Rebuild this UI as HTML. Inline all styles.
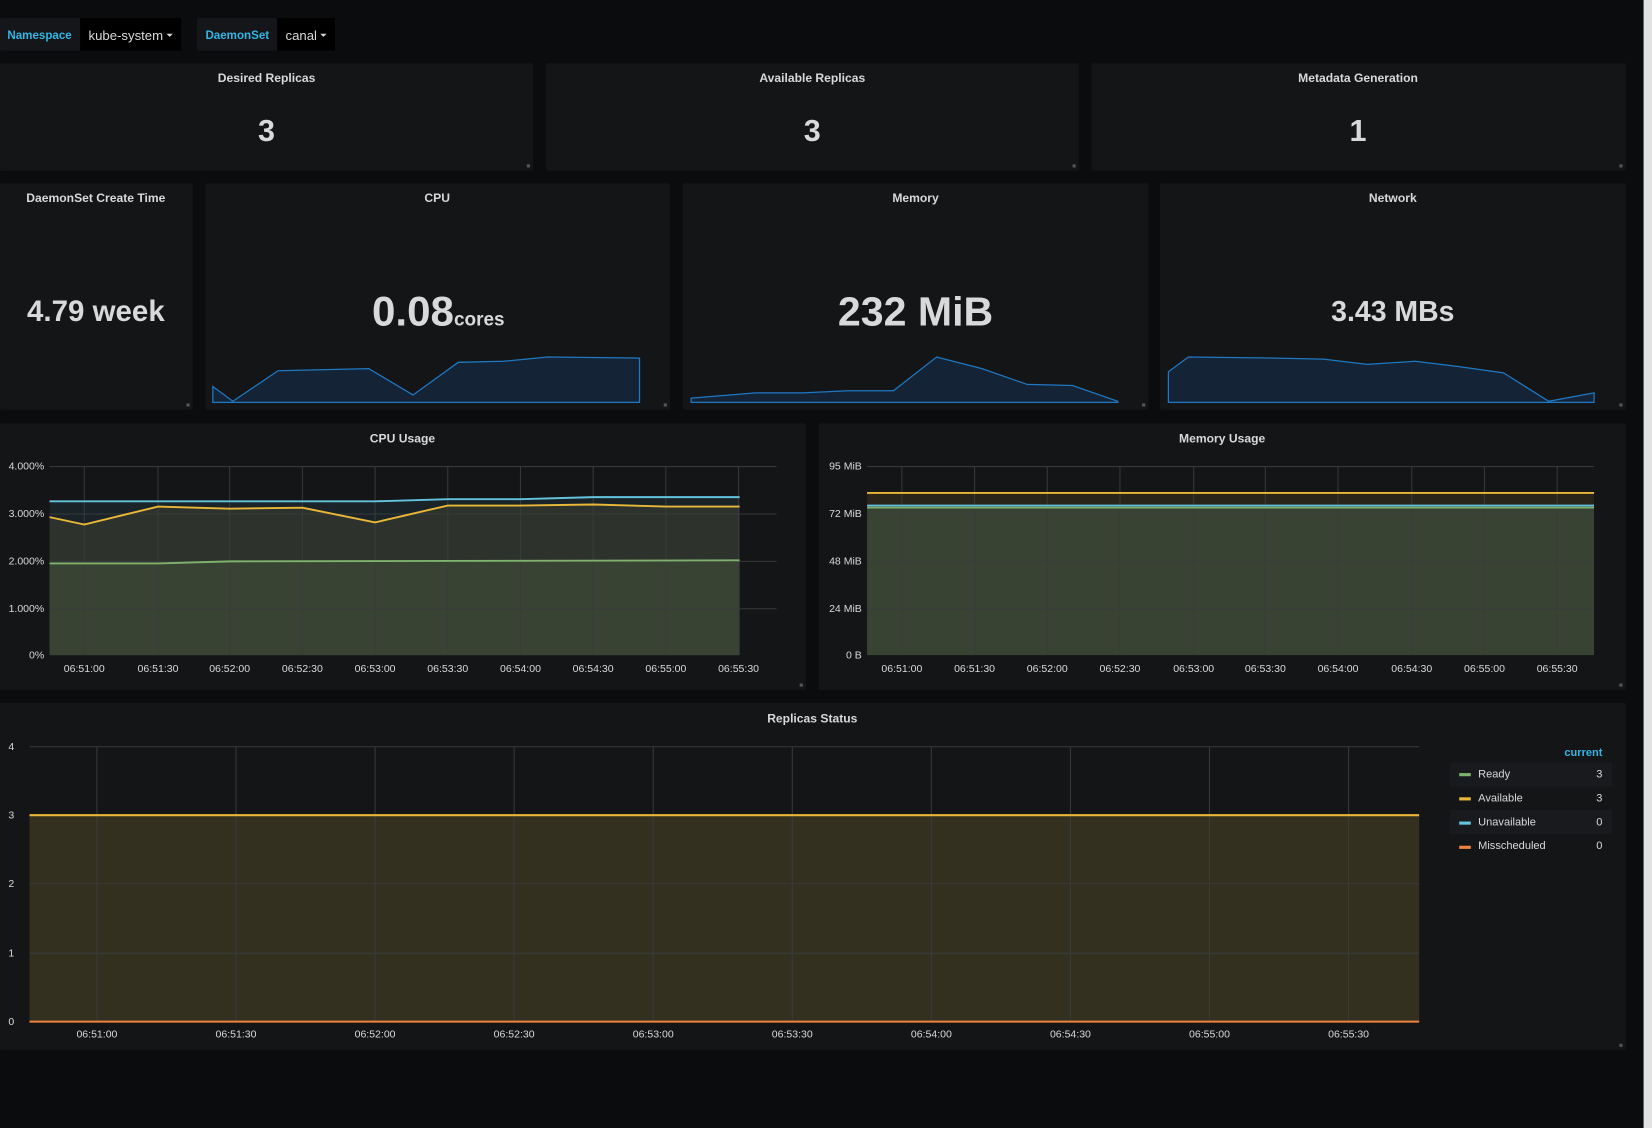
<!DOCTYPE html>
<html><head><meta charset="utf-8"><style>
html,body{margin:0;padding:0;background:#0b0c0e;width:1652px;height:1128px;overflow:hidden}
svg{display:block}
text{font-family:"Liberation Sans",sans-serif}
</style></head><body>
<svg width="1652" height="1128" viewBox="0 0 1568 1071" preserveAspectRatio="none" xmlns="http://www.w3.org/2000/svg">
<rect width="1568" height="1071" fill="#0b0c0e"/>
<rect x="1560" y="0" width="8" height="1071" fill="#e2e2e2"/>
<!-- top bar -->
<rect x="0" y="17" width="172" height="31" rx="2" fill="#141619"/>
<rect x="76" y="17" width="96" height="31" fill="#000"/>
<text x="7" y="37" font-size="11" font-weight="bold" fill="#33b5e5">Namespace</text>
<text x="84" y="38" font-size="12.5" fill="#d8d9da">kube-system</text>
<path d="M158 32l6 0-3 3z" fill="#d8d9da"/>
<rect x="187" y="17" width="131" height="31" rx="2" fill="#141619"/>
<rect x="263" y="17" width="55" height="31" fill="#000"/>
<text x="195" y="37" font-size="11" font-weight="bold" fill="#33b5e5">DaemonSet</text>
<text x="271" y="38" font-size="12.5" fill="#d8d9da">canal</text>
<path d="M304 32l6 0-3 3z" fill="#d8d9da"/>
<g fill="#141517">
<rect x="0" y="60" width="506" height="102" rx="2"/>
<rect x="518" y="60" width="506" height="102" rx="2"/>
<rect x="1036" y="60" width="507" height="102" rx="2"/>
<rect x="0" y="174" width="183" height="215" rx="2"/>
<rect x="195" y="174" width="441" height="215" rx="2"/>
<rect x="648" y="174" width="442" height="215" rx="2"/>
<rect x="1101" y="174" width="442" height="215" rx="2"/>
<rect x="0" y="402" width="765" height="253" rx="2"/>
<rect x="777" y="402" width="766" height="253" rx="2"/>
<rect x="0" y="667" width="1543" height="330" rx="2"/>
</g>
<g font-size="11.5" font-weight="bold" fill="#d8d9da" text-anchor="middle">
<text x="253" y="78">Desired Replicas</text>
<text x="771" y="78">Available Replicas</text>
<text x="1289" y="78">Metadata Generation</text>
<text x="91" y="192">DaemonSet Create Time</text>
<text x="415" y="192">CPU</text>
<text x="869" y="192">Memory</text>
<text x="1322" y="192">Network</text>
<text x="382" y="420">CPU Usage</text>
<text x="1160" y="420">Memory Usage</text>
<text x="771" y="686">Replicas Status</text>
</g>
<g font-weight="bold" fill="#d8d9da" text-anchor="middle">
<text x="253" y="134" font-size="29">3</text>
<text x="771" y="134" font-size="29">3</text>
<text x="1289" y="134" font-size="29">1</text>
<text x="91" y="305" font-size="28">4.79 week</text>
<text x="869" y="309" font-size="39">232 MiB</text>
<text x="1322" y="305" font-size="27">3.43 MBs</text>
<text x="416" y="309" font-size="40">0.08<tspan font-size="18">cores</tspan></text>
</g>
<!-- sparklines -->
<g fill="#142336" stroke="#1f78c1" stroke-width="1.2">
<path d="M202 367L221 381L264 352L350 350L392 375L435 344L478 343L520 339L607 340L607 382L202 382Z"/>
<path d="M656 378L717 373L762 373L805 371L848 371L889 339L932 350L975 365L1018 366L1061 381L1061 382L656 382Z"/>
<path d="M1109 353L1128 339L1210 340L1256 341L1298 346L1343 343L1384 348L1427 354L1470 381L1513 373L1513 382L1109 382Z"/>
</g>
<!-- CPU usage -->
<path d="M47 476L356 476L425 474L494 474L563 472L702 472L702 622L47 622Z" fill="#1a2428"/>
<path d="M47 491L80 498L150 481L218 483L287 482L356 496L425 480L494 480L563 479L632 481L702 481L702 622L47 622Z" fill="#2e322c"/>
<path d="M47 535L80 535L150 535L218 533L702 532L702 622L47 622Z" fill="#394333"/>
<g stroke="#3a3c3e" stroke-width="1" opacity="0.9">
<path d="M47 443H737M47 488H737M47 533H737M47 578H737"/>
<path d="M80 443V622M150 443V622M218 443V622M287 443V622M356 443V622M425 443V622M494 443V622M563 443V622M632 443V622M701 443V622"/>
</g>
<path d="M47 476L356 476L425 474L494 474L563 472L702 472" fill="none" stroke="#64c3dd" stroke-width="1.8"/>
<path d="M47 491L80 498L150 481L218 483L287 482L356 496L425 480L494 480L563 479L632 481L702 481" fill="none" stroke="#eab839" stroke-width="1.8"/>
<path d="M47 535L80 535L150 535L218 533L702 532" fill="none" stroke="#7eb26d" stroke-width="1.8"/>
<g font-size="10" fill="#d8d9da" text-anchor="end">
<text x="42" y="446">4.000%</text><text x="42" y="491">3.000%</text><text x="42" y="536">2.000%</text><text x="42" y="581">1.000%</text><text x="42" y="625">0%</text>
</g>
<g font-size="10" fill="#d8d9da" text-anchor="middle">
<text x="80" y="638">06:51:00</text><text x="150" y="638">06:51:30</text><text x="218" y="638">06:52:00</text><text x="287" y="638">06:52:30</text><text x="356" y="638">06:53:00</text><text x="425" y="638">06:53:30</text><text x="494" y="638">06:54:00</text><text x="563" y="638">06:54:30</text><text x="632" y="638">06:55:00</text><text x="701" y="638">06:55:30</text>
</g>
<!-- Memory usage -->
<rect x="823" y="468" width="690" height="154" fill="#2a2519"/>
<rect x="823" y="481" width="690" height="141" fill="#394333"/>
<g stroke="#3a3c3e" stroke-width="1" opacity="0.9">
<path d="M823 443H1513M823 488H1513M823 533H1513M823 578H1513"/>
<path d="M856 443V622M925 443V622M994 443V622M1063 443V622M1133 443V622M1201 443V622M1270 443V622M1340 443V622M1409 443V622M1478 443V622"/>
</g>
<path d="M823 468H1513" stroke="#eab839" stroke-width="1.8"/>
<path d="M823 480H1513" stroke="#64c3dd" stroke-width="1.8"/>
<path d="M823 482H1513" stroke="#7eb26d" stroke-width="1.5"/>
<g font-size="10" fill="#d8d9da" text-anchor="end">
<text x="818" y="446">95 MiB</text><text x="818" y="491">72 MiB</text><text x="818" y="536">48 MiB</text><text x="818" y="581">24 MiB</text><text x="818" y="625">0 B</text>
</g>
<g font-size="10" fill="#d8d9da" text-anchor="middle">
<text x="856" y="638">06:51:00</text><text x="925" y="638">06:51:30</text><text x="994" y="638">06:52:00</text><text x="1063" y="638">06:52:30</text><text x="1133" y="638">06:53:00</text><text x="1201" y="638">06:53:30</text><text x="1270" y="638">06:54:00</text><text x="1340" y="638">06:54:30</text><text x="1409" y="638">06:55:00</text><text x="1478" y="638">06:55:30</text>
</g>
<!-- Replicas status -->
<rect x="28" y="774" width="1319" height="196" fill="#33301f"/>
<g stroke="#3a3c3e" stroke-width="1" opacity="0.9">
<path d="M28 709H1347M28 839H1347M28 905H1347"/>
<path d="M92 709V970M224 709V970M356 709V970M488 709V970M620 709V970M752 709V970M884 709V970M1016 709V970M1148 709V970M1280 709V970"/>
</g>
<path d="M28 774H1347" stroke="#eab839" stroke-width="2"/>
<path d="M28 970H1347" stroke="#ef843c" stroke-width="2"/>
<g font-size="10" fill="#d8d9da">
<text x="8" y="712">4</text><text x="8" y="777">3</text><text x="8" y="842">2</text><text x="8" y="908">1</text><text x="8" y="973">0</text>
</g>
<g font-size="10" fill="#d8d9da" text-anchor="middle">
<text x="92" y="985">06:51:00</text><text x="224" y="985">06:51:30</text><text x="356" y="985">06:52:00</text><text x="488" y="985">06:52:30</text><text x="620" y="985">06:53:00</text><text x="752" y="985">06:53:30</text><text x="884" y="985">06:54:00</text><text x="1016" y="985">06:54:30</text><text x="1148" y="985">06:55:00</text><text x="1280" y="985">06:55:30</text>
</g>
<text x="1521" y="718" font-size="10.5" font-weight="bold" fill="#33b5e5" text-anchor="end">current</text>
<rect x="1376" y="724" width="154" height="23" fill="#191a1d"/>
<rect x="1376" y="769" width="154" height="23" fill="#191a1d"/>
<rect x="1385" y="734" width="11" height="3" fill="#7eb26d"/>
<rect x="1385" y="757" width="11" height="3" fill="#eab839"/>
<rect x="1385" y="780" width="11" height="3" fill="#64c3dd"/>
<rect x="1385" y="803" width="11" height="3" fill="#ef843c"/>
<g font-size="10.5" fill="#d8d9da">
<text x="1403" y="738">Ready</text><text x="1403" y="761">Available</text><text x="1403" y="784">Unavailable</text><text x="1403" y="806">Misscheduled</text>
</g>
<g font-size="10.5" fill="#d8d9da" text-anchor="end">
<text x="1521" y="738">3</text><text x="1521" y="761">3</text><text x="1521" y="784">0</text><text x="1521" y="806">0</text>
</g>
<!-- resize corners -->
<g fill="#555">
<rect x="500" y="156" width="3" height="3"/><rect x="1018" y="156" width="3" height="3"/><rect x="1537" y="156" width="3" height="3"/>
<rect x="177" y="383" width="3" height="3"/><rect x="630" y="383" width="3" height="3"/><rect x="1084" y="383" width="3" height="3"/><rect x="1537" y="383" width="3" height="3"/>
<rect x="759" y="649" width="3" height="3"/><rect x="1537" y="649" width="3" height="3"/><rect x="1537" y="991" width="3" height="3"/>
</g>
</svg>
</body></html>
